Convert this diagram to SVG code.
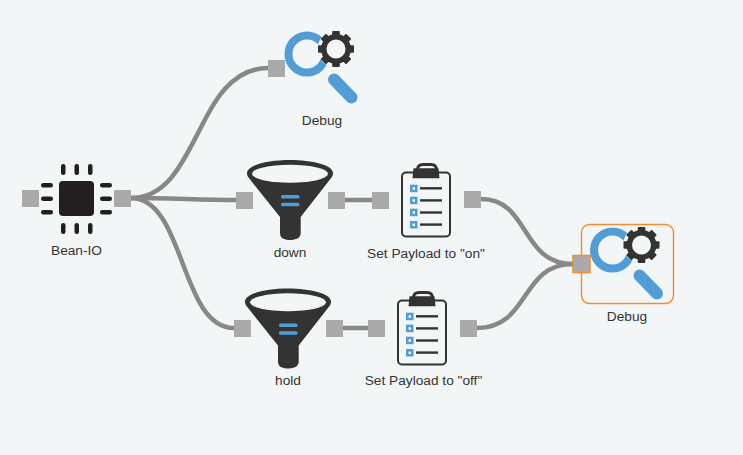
<svg xmlns="http://www.w3.org/2000/svg" xmlns:xlink="http://www.w3.org/1999/xlink" width="743" height="455" viewBox="0 0 743 455">
  <style>
    text { font-family: "Liberation Sans", Arial, sans-serif; font-size: 13.7px; fill: #333; text-anchor: middle; }
    .wire { fill: none; stroke: #888; stroke-width: 4.5; }
    .port { fill: #aaa; }
    .dark { fill: #333; }
    .blue { fill: #529dd6; }
    .line { stroke: #333; stroke-width: 2.4; }
    .tooth { fill: #333; }
  </style>
  <defs>
    <!-- magnifier with gear, origin at the lens centre -->
    <g id="magnifier">
      <circle cx="0" cy="0" r="18.500" fill="none" stroke="#529dd6" stroke-width="8"/>
      <line x1="27" y1="25.500" x2="44.500" y2="43.500" stroke="#529dd6" stroke-width="12" stroke-linecap="round"/>
      <circle cx="29" cy="-5" r="18.500" fill="#f3f6f7"/>
      <g transform="translate(29 -5)">
        <circle r="12.250" fill="none" stroke="#333" stroke-width="5.500"/>
        <rect class="tooth" x="-3.800" y="-18" width="7.600" height="5" rx="1"/>
        <rect class="tooth" x="-3.800" y="-18" width="7.600" height="5" rx="1" transform="rotate(45)"/>
        <rect class="tooth" x="-3.800" y="-18" width="7.600" height="5" rx="1" transform="rotate(90)"/>
        <rect class="tooth" x="-3.800" y="-18" width="7.600" height="5" rx="1" transform="rotate(135)"/>
        <rect class="tooth" x="-3.800" y="-18" width="7.600" height="5" rx="1" transform="rotate(180)"/>
        <rect class="tooth" x="-3.800" y="-18" width="7.600" height="5" rx="1" transform="rotate(225)"/>
        <rect class="tooth" x="-3.800" y="-18" width="7.600" height="5" rx="1" transform="rotate(270)"/>
        <rect class="tooth" x="-3.800" y="-18" width="7.600" height="5" rx="1" transform="rotate(315)"/>
      </g>
    </g>
    <!-- funnel, origin at the centre of the mouth -->
    <g id="funnel">
      <path class="dark" d="M-43,0 C-43,-8 -22,-13 0,-13 C22,-13 43,-8 43,0 C43,2 42.500,3 41.500,4.500 L10.700,44 L10.700,60 C10.700,65 6,67 0,67 C-6,67 -10,65 -10,60 L-10,44 L-41.500,4.500 C-42.500,3 -43,2 -43,0 Z"/>
      <ellipse cx="0" cy="0.800" rx="38" ry="9" fill="#f3f6f7"/>
      <rect class="blue" x="-9" y="22" width="18.500" height="3.500" rx="1.500"/>
      <rect class="blue" x="-9" y="29.700" width="18.500" height="3.500" rx="1.500"/>
    </g>
    <!-- clipboard, origin at the top left of the board -->
    <g id="clipboard">
      <rect x="1" y="1.500" width="48" height="64" rx="4" fill="#f3f6f7" stroke="#333" stroke-width="2"/>
      <path fill="none" stroke="#333" stroke-width="2.800" d="M16.500,-1 Q16.500,-6.500 22,-6.500 L30,-6.500 Q35.500,-6.500 35.500,-1"/>
      <path class="dark" d="M12.500,-2.700 L37.500,-2.700 L38.500,7.300 L11.500,7.300 Z"/>
      <g>
        <rect class="blue" x="9" y="13.700" width="7.500" height="7.500"/><rect x="11.600" y="16.300" width="2.400" height="2.400" fill="#fff"/><line class="line" x1="19" y1="17.300" x2="41" y2="17.300"/>
        <rect class="blue" x="9" y="25.700" width="7.500" height="7.500"/><rect x="11.600" y="28.300" width="2.400" height="2.400" fill="#fff"/><line class="line" x1="19" y1="29.400" x2="41" y2="29.400"/>
        <rect class="blue" x="9" y="37.700" width="7.500" height="7.500"/><rect x="11.600" y="40.300" width="2.400" height="2.400" fill="#fff"/><line class="line" x1="19" y1="41.500" x2="41" y2="41.500"/>
        <rect class="blue" x="9" y="50" width="7.500" height="7.500"/><rect x="11.600" y="52.600" width="2.400" height="2.400" fill="#fff"/><line class="line" x1="19" y1="53.600" x2="41" y2="53.600"/>
      </g>
    </g>
  </defs>

  <rect width="743" height="455" fill="#f3f6f7"/>

  <g id="connectors">
    <path class="wire" d="M131,198 C200,198 195,68 268,68"/>
    <path class="wire" d="M131,198 C170,198 200,200 236,200"/>
    <path class="wire" d="M131,198 C185,198 180,328 234,328"/>
    <path class="wire" d="M345,200 L372,200"/>
    <path class="wire" d="M343,328 L368,328"/>
    <path class="wire" d="M481,199 C530,199 520,264 573,264"/>
    <path class="wire" d="M477,328 C530,328 520,264 573,264"/>
  </g>

  <g id="bean-io">
    <rect class="port" x="22" y="190" width="17" height="17"/>
    <rect class="port" x="114" y="190" width="17" height="17"/>
    <rect x="59" y="181" width="35" height="35" rx="4" fill="#231f20"/>
    <g fill="#231f20">
      <rect x="61" y="164" width="4.500" height="11" rx="2.200"/><rect x="74.500" y="164" width="4.500" height="11" rx="2.200"/><rect x="88" y="164" width="4.500" height="11" rx="2.200"/>
      <rect x="61" y="223" width="4.500" height="11" rx="2.200"/><rect x="74.500" y="223" width="4.500" height="11" rx="2.200"/><rect x="88" y="223" width="4.500" height="11" rx="2.200"/>
      <rect x="41" y="183" width="12" height="4.500" rx="2.200"/><rect x="41" y="196.500" width="12" height="4.500" rx="2.200"/><rect x="41" y="210" width="12" height="4.500" rx="2.200"/>
      <rect x="100" y="183" width="12" height="4.500" rx="2.200"/><rect x="100" y="196.500" width="12" height="4.500" rx="2.200"/><rect x="100" y="210" width="12" height="4.500" rx="2.200"/>
    </g>
    <text x="76.500" y="255">Bean-IO</text>
  </g>

  <g id="debug-top">
    <rect class="port" x="268" y="60" width="17" height="17"/>
    <use xlink:href="#magnifier" href="#magnifier" transform="translate(307 54)"/>
    <text x="322" y="125">Debug</text>
  </g>

  <g id="switch-down">
    <rect class="port" x="236" y="192" width="17" height="17"/>
    <rect class="port" x="328" y="192" width="17" height="17"/>
    <use xlink:href="#funnel" href="#funnel" transform="translate(290 173)"/>
    <text x="290" y="257">down</text>
  </g>

  <g id="change-on">
    <rect class="port" x="372" y="192" width="17" height="17"/>
    <rect class="port" x="464" y="191" width="17" height="17"/>
    <use xlink:href="#clipboard" href="#clipboard" transform="translate(401 171)"/>
    <text x="426" y="258">Set Payload to "on"</text>
  </g>

  <g id="switch-hold">
    <rect class="port" x="234" y="320" width="17" height="17"/>
    <rect class="port" x="326" y="320" width="17" height="17"/>
    <use xlink:href="#funnel" href="#funnel" transform="translate(288 301.500)"/>
    <text x="288" y="385">hold</text>
  </g>

  <g id="change-off">
    <rect class="port" x="368" y="320" width="17" height="17"/>
    <rect class="port" x="460" y="320" width="17" height="17"/>
    <use xlink:href="#clipboard" href="#clipboard" transform="translate(397 299)"/>
    <text x="423.500" y="385">Set Payload to "off"</text>
  </g>

  <g id="debug-selected">
    <rect x="581.500" y="224.500" width="92" height="79" rx="8" fill="none" stroke="#f58b2c" stroke-width="1.400"/>
    <use xlink:href="#magnifier" href="#magnifier" transform="translate(612.500 250)"/>
    <rect x="573" y="255.500" width="17" height="17" fill="#aaa" stroke="#f58b2c" stroke-width="1.500"/>
    <text x="627" y="321">Debug</text>
  </g>
</svg>
